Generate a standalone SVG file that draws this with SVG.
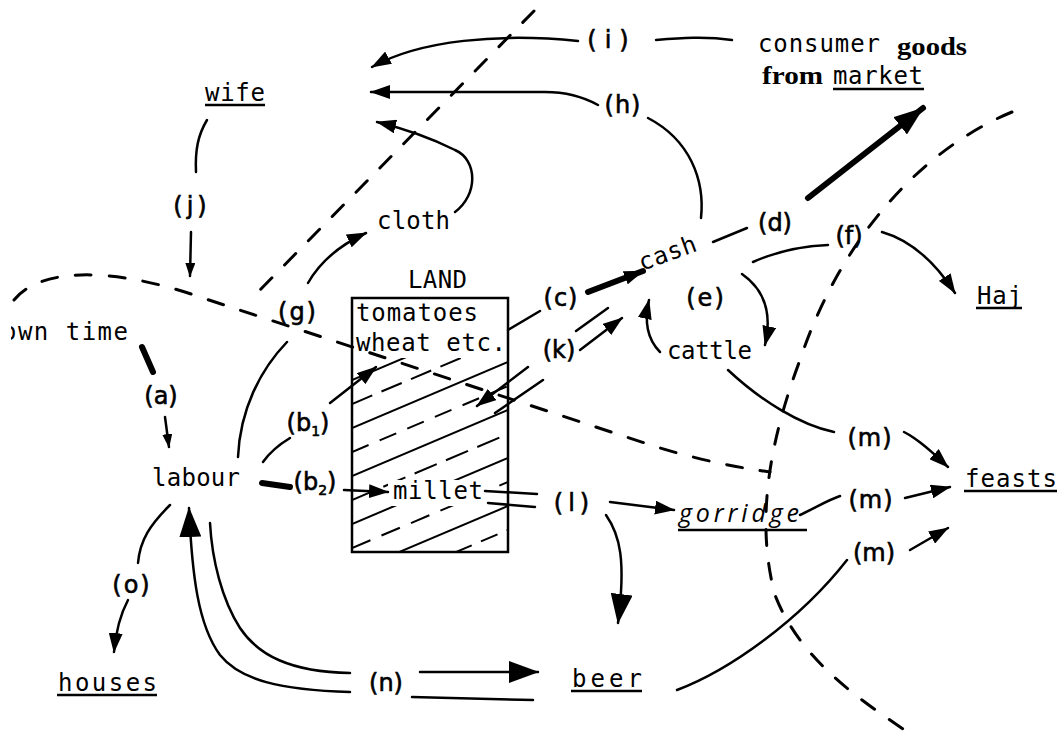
<svg xmlns="http://www.w3.org/2000/svg" width="1064" height="736" viewBox="0 0 1064 736">
<style>
.tw{font-family:"DejaVu Sans Mono","Liberation Mono",monospace;font-size:24px;fill:#000}
.hd{font-family:"DejaVu Sans","Liberation Sans",sans-serif;font-size:24px;fill:#000;stroke:#000;stroke-width:0.6}
.sf{font-family:"Liberation Serif",serif;font-weight:bold;font-size:26px;fill:#000}
.u{stroke:#000;stroke-width:2.5;fill:none}
.c{fill:none;stroke:#000;stroke-width:2.5;stroke-linecap:round}
.th{stroke-width:6}
.dash{fill:none;stroke:#000;stroke-width:3;stroke-dasharray:16 18;stroke-linecap:round}
.hatch{fill:none;stroke:#000;stroke-width:2}
</style>
<defs>
<marker id="as" viewBox="0 0 14 10" refX="13" refY="5" markerWidth="14" markerHeight="10" markerUnits="userSpaceOnUse" orient="auto"><path d="M0,0 L14,5 L0,10 z"/></marker>
<marker id="am" viewBox="0 0 20 14" refX="19" refY="7" markerWidth="20" markerHeight="14" markerUnits="userSpaceOnUse" orient="auto"><path d="M0,0 L20,7 L0,14 z"/></marker>
<marker id="al" viewBox="0 0 30 22" refX="29" refY="11" markerWidth="30" markerHeight="22" markerUnits="userSpaceOnUse" orient="auto"><path d="M0,0 L30,11 L0,22 z"/></marker>
<clipPath id="boxclip"><rect x="352" y="358" width="156" height="194"/></clipPath>
<clipPath id="edge"><rect x="11" y="0" width="200" height="400"/></clipPath>
<mask id="milletmask"><rect x="340" y="290" width="180" height="270" fill="#fff"/><rect x="388" y="480" width="100" height="26" fill="#000"/></mask>
</defs>
<rect width="1064" height="736" fill="#fff"/>

<g id="boundaries">
<path class="dash" d="M14 300 C40 268 110 266 200 297 L660 448 C700 460 740 468 770 472"/>
<path class="dash" d="M534 11 L258 292"/>
<path class="dash" d="M1012 112 C920 150 840 240 800 360 C770 440 755 520 775 595 C800 660 860 700 912 735"/>
</g>

<g id="land">
<rect x="352" y="298" width="156" height="254" fill="none" stroke="#000" stroke-width="2.5"/>
<g clip-path="url(#boxclip)" mask="url(#milletmask)">
<path class="hatch" d="M352 380 L508 314"/>
<path class="hatch" stroke-dasharray="22 10" d="M352 404 L508 338"/>
<path class="hatch" d="M352 428 L508 362"/>
<path class="hatch" stroke-dasharray="18 12" d="M352 452 L508 386"/>
<path class="hatch" d="M352 476 L508 410"/>
<path class="hatch" stroke-dasharray="24 10" d="M352 500 L508 434"/>
<path class="hatch" d="M352 524 L508 458"/>
<path class="hatch" stroke-dasharray="20 12" d="M352 548 L508 482"/>
<path class="hatch" d="M352 572 L508 506"/>
<path class="hatch" stroke-dasharray="18 10" d="M352 596 L508 530"/>
<path class="hatch" d="M352 620 L508 554"/>
</g>
<text class="tw" x="408" y="288" font-size="22" textLength="59" lengthAdjust="spacing">LAND</text>
<text class="tw" x="356" y="321" textLength="122" lengthAdjust="spacing">tomatoes</text>
<text class="tw" x="356" y="351" textLength="150" lengthAdjust="spacing">wheat etc.</text>
</g>

<g id="wife"><text class="tw" x="205" y="101" textLength="60" lengthAdjust="spacing">wife</text><line class="u" x1="205" y1="105" x2="265" y2="105"/></g>
<g id="consumer-goods">
<text class="tw" x="758" y="52" textLength="122" lengthAdjust="spacing">consumer</text>
<text class="sf" x="897" y="55" textLength="70" lengthAdjust="spacingAndGlyphs">goods</text>
<text class="sf" x="762" y="84" textLength="61" lengthAdjust="spacingAndGlyphs">from</text>
<text class="tw" x="833" y="84" textLength="90" lengthAdjust="spacing">market</text><line class="u" x1="833" y1="89" x2="924" y2="89"/>
</g>
<g id="cloth"><text class="tw" x="377" y="229" textLength="73" lengthAdjust="spacing">cloth</text></g>
<g id="own-time"><text class="tw" x="2" y="340" textLength="126" lengthAdjust="spacing" clip-path="url(#edge)">own time</text></g>
<g id="labour"><text class="tw" x="152" y="486" textLength="88" lengthAdjust="spacing">labour</text></g>
<g id="millet"><text class="tw" x="393" y="499" textLength="90" lengthAdjust="spacing">millet</text></g>
<g id="cash"><text class="tw" x="642" y="271" textLength="60" lengthAdjust="spacing" transform="rotate(-20 642 271)">cash</text></g>
<g id="cattle"><text class="tw" x="667" y="359" textLength="85" lengthAdjust="spacing">cattle</text></g>
<g id="haj"><text class="tw" x="977" y="304" textLength="45" lengthAdjust="spacing">Haj</text><line class="u" x1="976" y1="308" x2="1022" y2="308"/></g>
<g id="porridge"><text x="679" y="522" textLength="120" lengthAdjust="spacing" style="font-family:'Open Sans','DejaVu Sans',sans-serif;font-style:italic;font-size:25px">gorridge</text><line class="u" x1="678" y1="530" x2="807" y2="530"/></g>
<g id="feasts"><text class="tw" x="965" y="487" textLength="92" lengthAdjust="spacing">feasts</text><line class="u" x1="964" y1="491" x2="1057" y2="491"/></g>
<g id="houses"><text class="tw" x="58" y="691" textLength="99" lengthAdjust="spacing">houses</text><line class="u" x1="57" y1="695" x2="157" y2="695"/></g>
<g id="beer"><text class="tw" x="572" y="687" textLength="70" lengthAdjust="spacing">beer</text><line class="u" x1="571" y1="691" x2="642" y2="691"/></g>

<g id="connectors">
<path class="c" d="M207 120 C198 135 195 150 196 172"/>
<path class="c" d="M191 232 L190 276" marker-end="url(#as)"/>
<path class="c" d="M732 40 C705 36 680 38 656 40"/>
<path class="c" d="M578 41 C500 33 420 40 372 67" marker-end="url(#am)"/>
<path class="c" d="M598 105 C580 95 560 92 545 92 L371 92" marker-end="url(#am)"/>
<path class="c" d="M648 118 C690 140 705 180 701 218"/>
<path class="c" d="M455 212 C478 195 478 160 455 150 C435 140 410 130 377 122" marker-end="url(#am)"/>
<path class="c" d="M238 457 C240 410 260 370 287 342"/>
<path class="c" d="M308 283 C320 262 340 245 366 233" marker-end="url(#am)"/>
<path class="c th" d="M142 347 L153 372"/>
<path class="c" stroke-width="5" d="M165 417 L169 447" marker-end="url(#as)"/>
<path class="c" stroke-width="7" d="M263 462 C270 452 280 444 290 438"/>
<path class="c" stroke-width="4" d="M330 403 L376 367" marker-end="url(#am)"/>
<path class="c th" d="M262 483 L290 487"/>
<path class="c" d="M344 490 L388 492" marker-end="url(#am)"/>
<path class="c" stroke-width="7" d="M508 330 L540 311"/>
<path class="c th" d="M588 292 L643 271" marker-end="url(#am)"/>
<path class="c" d="M528 367 L477 406" marker-end="url(#am)"/>
<path class="c" d="M543 380 L495 413"/>
<path class="c" d="M576 331 L608 308"/>
<path class="c" d="M580 350 L622 318" marker-end="url(#am)"/>
<path class="c" stroke-width="8" d="M713 242 L747 228"/>
<path class="c th" d="M808 198 L923 108" marker-end="url(#al)"/>
<path class="c" d="M753 262 C780 250 805 246 828 245"/>
<path class="c" d="M882 232 C910 240 935 262 955 293" marker-end="url(#am)"/>
<path class="c" d="M742 274 C765 290 772 315 765 345" marker-end="url(#am)"/>
<path class="c" d="M660 352 C648 340 644 322 649 300" marker-end="url(#am)"/>
<path class="c" d="M728 370 C760 400 800 425 834 432"/>
<path class="c" d="M904 432 C920 440 935 455 948 467" marker-end="url(#am)"/>
<path class="c" stroke-width="3" d="M485 491 L537 494"/>
<path class="c" stroke-width="3" d="M488 503 L535 507"/>
<path class="c" stroke-width="5" d="M610 502 L674 510" marker-end="url(#am)"/>
<path class="c" d="M606 515 C620 535 626 560 618 623" marker-end="url(#al)"/>
<path class="c" d="M800 515 C815 508 828 500 840 496"/>
<path class="c" d="M905 498 L950 487" marker-end="url(#am)"/>
<path class="c" d="M677 690 C730 670 800 620 847 560"/>
<path class="c" stroke-width="3" d="M910 550 L948 528" marker-end="url(#am)"/>
<path class="c" stroke-width="5" d="M350 692 C280 690 240 680 220 655 C198 625 192 575 189 508" marker-end="url(#al)"/>
<path class="c" stroke-width="5" d="M350 673 C290 672 258 655 240 628 C222 600 212 560 210 523"/>
<path class="c" stroke-width="5" d="M420 672 L538 672" marker-end="url(#al)"/>
<path class="c" stroke-width="5" d="M412 697 L533 700"/>
<path class="c" d="M170 505 C150 525 140 540 138 563"/>
<path class="c" d="M128 600 C120 615 116 630 114 652" marker-end="url(#am)"/>
</g>

<g id="labels">
<text class="hd" x="192" y="214" text-anchor="middle" letter-spacing="4">(j)</text>
<text class="hd" x="612" y="48" text-anchor="middle" font-size="30" letter-spacing="8">(i)</text>
<text class="hd" x="623" y="113" text-anchor="middle" font-size="27" letter-spacing="1">(h)</text>
<text class="hd" x="298" y="320" text-anchor="middle" font-size="25" letter-spacing="2">(g)</text>
<text class="hd" x="161" y="404" text-anchor="middle" font-size="20">(a)</text>
<text class="hd" x="308" y="431" text-anchor="middle" font-size="24">(b<tspan font-size="14" dy="5">1</tspan><tspan dy="-5">)</tspan></text>
<text class="hd" x="315" y="490" text-anchor="middle" font-size="24">(b<tspan font-size="14" dy="5">2</tspan><tspan dy="-5">)</tspan></text>
<text class="hd" x="561" y="306" text-anchor="middle" font-size="27" letter-spacing="1">(c)</text>
<text class="hd" x="559" y="358" text-anchor="middle" font-size="24">(k)</text>
<text class="hd" x="775" y="231" text-anchor="middle" font-size="27">(d)</text>
<text class="hd" x="706" y="306" text-anchor="middle" font-size="25" letter-spacing="2">(e)</text>
<text class="hd" x="849" y="244" text-anchor="middle" font-size="26">(f)</text>
<text class="hd" x="574" y="511" text-anchor="middle" font-size="30" letter-spacing="5">(l)</text>
<text class="hd" x="870" y="446" text-anchor="middle" font-size="24" letter-spacing="1">(m)</text>
<text class="hd" x="871" y="508" text-anchor="middle" font-size="24" letter-spacing="1">(m)</text>
<text class="hd" x="874" y="561" text-anchor="middle" font-size="24">(m)</text>
<text class="hd" x="386" y="691" text-anchor="middle" font-size="24">(n)</text>
<text class="hd" x="132" y="593" text-anchor="middle" font-size="24" letter-spacing="2">(o)</text>
</g>
</svg>
